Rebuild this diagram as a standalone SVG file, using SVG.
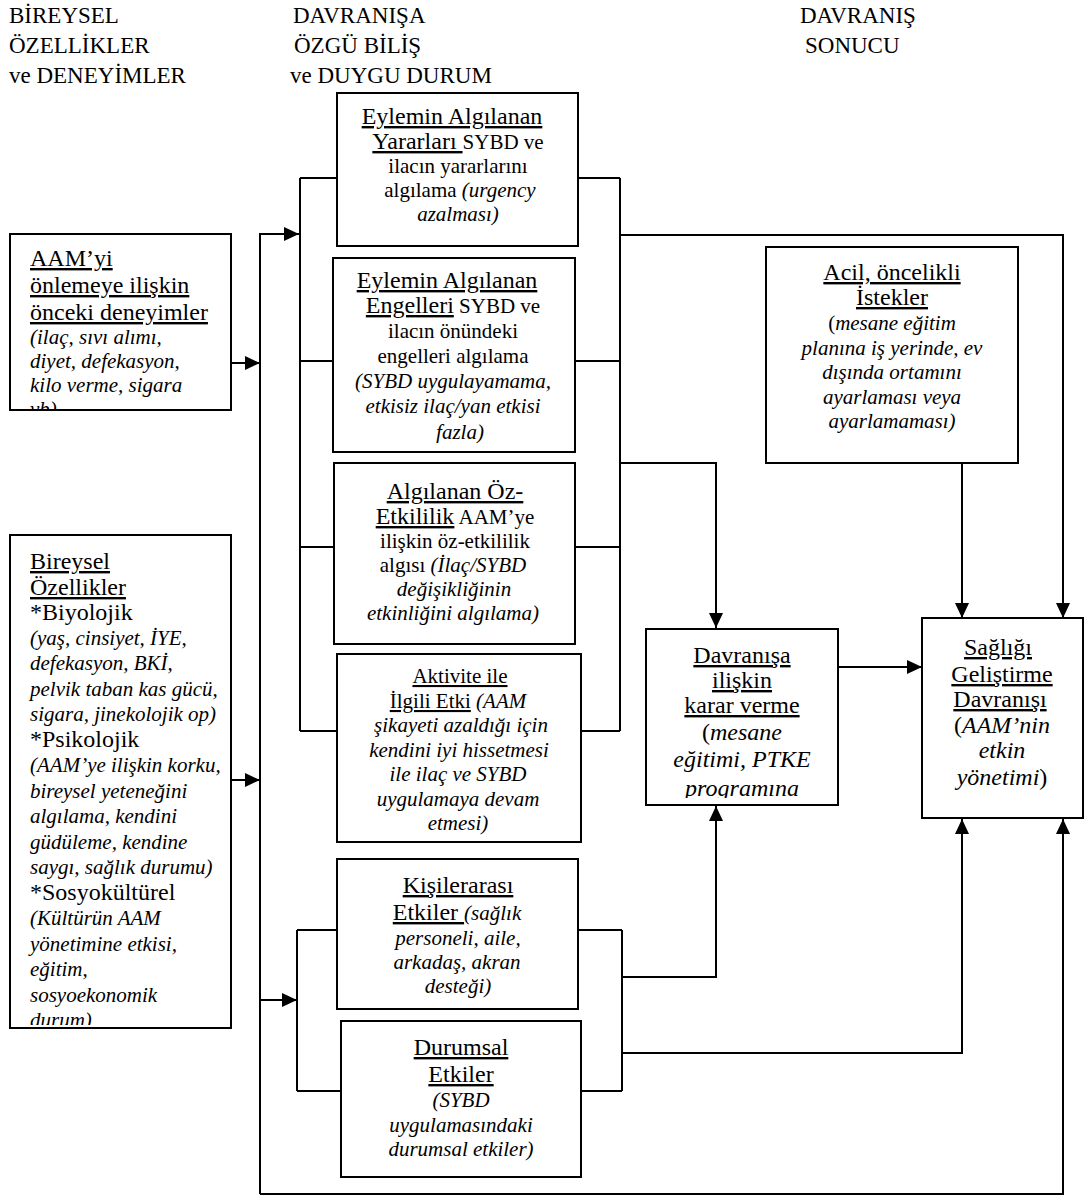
<svg xmlns="http://www.w3.org/2000/svg" width="1086" height="1196" viewBox="0 0 1086 1196">
<style>
text{font-family:"Liberation Serif","Times New Roman",serif;fill:#000}
.h{font-size:23px}
.s{font-size:24px}
.b{font-size:21px}
.u{text-decoration:underline}
.i{font-style:italic}
.c{text-anchor:middle}
.box{fill:#fff;stroke:#000;stroke-width:2}
.ln{fill:none;stroke:#000;stroke-width:2}
.ar{fill:none;stroke:#000;stroke-width:2;marker-end:url(#ah)}
</style>
<defs>
<marker id="ah" markerUnits="userSpaceOnUse" markerWidth="15" markerHeight="14" refX="15" refY="7" orient="auto"><path d="M0,0 L15,7 L0,14 z" fill="#000"/></marker>
<clipPath id="cpAam"><rect x="10" y="234" width="221" height="175"/></clipPath>
<clipPath id="cpEng"><rect x="333" y="258" width="242" height="185"/></clipPath>
<clipPath id="cpBir"><rect x="10" y="535" width="221" height="490"/></clipPath>
<clipPath id="cpKar"><rect x="646" y="629" width="192" height="169"/></clipPath>
</defs>
<rect width="1086" height="1196" fill="#fff"/>

<g id="headers">
<text class="h" x="9" y="23">BİREYSEL</text>
<text class="h" x="9" y="53">ÖZELLİKLER</text>
<text class="h" x="9" y="83">ve DENEYİMLER</text>
<text class="h" x="293" y="23">DAVRANIŞA</text>
<text class="h" x="294" y="53">ÖZGÜ BİLİŞ</text>
<text class="h" x="290" y="83">ve DUYGU DURUM</text>
<text class="h" x="800" y="23">DAVRANIŞ</text>
<text class="h" x="805" y="53">SONUCU</text>
</g>

<g id="connectors">
<path class="ar" d="M260,1194 V234 H299"/>
<path class="ar" d="M260,1000 H297"/>
<path class="ar" d="M260,1194 H1063 V819"/>
<path class="ar" d="M231,363 H260"/>
<path class="ar" d="M231,780 H260"/>
<path class="ln" d="M300,178 V731 M300,178 H337 M300,361 H333 M300,547 H334 M300,731 H337"/>
<path class="ln" d="M620,178 V731 M578,178 H620 M575,361 H620 M575,547 H620 M581,731 H620"/>
<path class="ar" d="M620,235 H1063 V618"/>
<path class="ar" d="M620,463 H716 V628"/>
<path class="ar" d="M962,463 V618"/>
<path class="ar" d="M838,667 H922"/>
<path class="ln" d="M297,930 V1091 M297,930 H337 M297,1091 H341"/>
<path class="ln" d="M622,930 V1091 M578,930 H622 M581,1091 H622"/>
<path class="ar" d="M622,977 H716 V806"/>
<path class="ar" d="M622,1053 H962 V819"/>
</g>

<g id="n-aam">
<rect class="box" x="10" y="234" width="221" height="176"/>
<g clip-path="url(#cpAam)">
<text x="30" y="266"><tspan class="s u">AAM’yi</tspan></text>
<text x="30" y="293"><tspan class="s u">önlemeye ilişkin</tspan></text>
<text x="30" y="320"><tspan class="s u">önceki deneyimler</tspan></text>
<text class="b i" x="30" y="344">(ilaç, sıvı alımı,</text>
<text class="b i" x="30" y="368">diyet, defekasyon,</text>
<text class="b i" x="30" y="392">kilo verme, sigara</text>
<text class="b i" x="30" y="416">vb)</text>
</g>
</g>

<g id="n-bireysel">
<rect class="box" x="10" y="535" width="221" height="493"/>
<g clip-path="url(#cpBir)">
<text x="30" y="569"><tspan class="s u">Bireysel</tspan></text>
<text x="30" y="595"><tspan class="s u">Özellikler</tspan></text>
<text class="s" x="30" y="620">*Biyolojik</text>
<text class="b i" x="30" y="645">(yaş, cinsiyet, İYE,</text>
<text class="b i" x="30" y="670">defekasyon, BKİ,</text>
<text class="b i" x="30" y="696">pelvik taban kas gücü,</text>
<text class="b i" x="30" y="721">sigara, jinekolojik op)</text>
<text class="s" x="30" y="747">*Psikolojik</text>
<text class="b i" x="30" y="772">(AAM’ye ilişkin korku,</text>
<text class="b i" x="30" y="798">bireysel yeteneğini</text>
<text class="b i" x="30" y="823">algılama, kendini</text>
<text class="b i" x="30" y="849">güdüleme, kendine</text>
<text class="b i" x="30" y="874">saygı, sağlık durumu)</text>
<text class="s" x="30" y="900">*Sosyokültürel</text>
<text class="b i" x="30" y="925">(Kültürün AAM</text>
<text class="b i" x="30" y="951">yönetimine etkisi,</text>
<text class="b i" x="30" y="976">eğitim,</text>
<text class="b i" x="30" y="1002">sosyoekonomik</text>
<text class="b i" x="30" y="1027">durum)</text>
</g>
</g>

<g id="n-yarar">
<rect class="box" x="337" y="93" width="241" height="153"/>
<text class="c" x="452" y="124"><tspan class="s u">Eylemin Algılanan</tspan></text>
<text class="c" x="458" y="149"><tspan class="s u">Yararları </tspan><tspan class="b">SYBD ve</tspan></text>
<text class="c b" x="458" y="173">ilacın yararlarını</text>
<text class="c b" x="460" y="197">algılama <tspan class="i">(urgency</tspan></text>
<text class="c b i" x="458" y="221">azalması)</text>
</g>

<g id="n-engel">
<rect class="box" x="333" y="258" width="242" height="194"/>
<g clip-path="url(#cpEng)">
<text class="c" x="447" y="288"><tspan class="s u">Eylemin Algılanan</tspan></text>
<text class="c" x="453" y="313"><tspan class="s u">Engelleri</tspan><tspan class="b"> SYBD ve</tspan></text>
<text class="c b" x="453" y="338">ilacın önündeki</text>
<text class="c b" x="453" y="363">engelleri algılama</text>
<text class="c b i" x="453" y="388">(SYBD uygulayamama,</text>
<text class="c b i" x="453" y="413">etkisiz ilaç/yan etkisi</text>
<text class="c b i" x="460" y="439">fazla)</text>
</g>
</g>

<g id="n-oz">
<rect class="box" x="334" y="463" width="241" height="181"/>
<text class="c" x="455" y="499"><tspan class="s u">Algılanan Öz-</tspan></text>
<text class="c" x="455" y="524"><tspan class="s u">Etkililik</tspan><tspan class="b"> AAM’ye</tspan></text>
<text class="c b" x="455" y="548">ilişkin öz-etkililik</text>
<text class="c b" x="453" y="572">algısı <tspan class="i">(İlaç/SYBD</tspan></text>
<text class="c b i" x="454" y="596">değişikliğinin</text>
<text class="c b i" x="453" y="620">etkinliğini algılama)</text>
</g>

<g id="n-aktivite">
<rect class="box" x="337" y="654" width="244" height="188"/>
<text class="c b" x="460" y="683"><tspan class="u">Aktivite ile</tspan></text>
<text class="c b" x="458" y="708"><tspan class="u">İlgili Etki</tspan><tspan class="i"> (AAM</tspan></text>
<text class="c b i" x="461" y="732">şikayeti azaldığı için</text>
<text class="c b i" x="459" y="757">kendini iyi hissetmesi</text>
<text class="c b i" x="458" y="781">ile ilaç ve SYBD</text>
<text class="c b i" x="458" y="806">uygulamaya devam</text>
<text class="c b i" x="458" y="830">etmesi)</text>
</g>

<g id="n-kisiler">
<rect class="box" x="337" y="859" width="241" height="150"/>
<text class="c" x="458" y="893"><tspan class="s u">Kişilerarası</tspan></text>
<text class="c" x="457" y="920"><tspan class="s u">Etkiler </tspan><tspan class="b i">(sağlık</tspan></text>
<text class="c b i" x="458" y="945">personeli, aile,</text>
<text class="c b i" x="457" y="969">arkadaş, akran</text>
<text class="c b i" x="458" y="993">desteği)</text>
</g>

<g id="n-durumsal">
<rect class="box" x="341" y="1021" width="240" height="156"/>
<text class="c" x="461" y="1055"><tspan class="s u">Durumsal</tspan></text>
<text class="c" x="461" y="1082"><tspan class="s u">Etkiler</tspan></text>
<text class="c b i" x="461" y="1107">(SYBD</text>
<text class="c b i" x="461" y="1132">uygulamasındaki</text>
<text class="c b i" x="461" y="1156">durumsal etkiler)</text>
</g>

<g id="n-acil">
<rect class="box" x="766" y="247" width="252" height="216"/>
<text class="c" x="892" y="280"><tspan class="s u">Acil, öncelikli</tspan></text>
<text class="c" x="892" y="305"><tspan class="s u">İstekler</tspan></text>
<text class="c b" x="892" y="330">(<tspan class="i">mesane eğitim</tspan></text>
<text class="c b i" x="892" y="355">planına iş yerinde, ev</text>
<text class="c b i" x="892" y="379">dışında ortamını</text>
<text class="c b i" x="892" y="404">ayarlaması veya</text>
<text class="c b i" x="892" y="428">ayarlamaması)</text>
</g>

<g id="n-karar">
<rect class="box" x="646" y="629" width="192" height="176"/>
<g clip-path="url(#cpKar)">
<text class="c" x="742" y="663"><tspan class="s u">Davranışa</tspan></text>
<text class="c" x="742" y="688"><tspan class="s u">ilişkin</tspan></text>
<text class="c" x="742" y="713"><tspan class="s u">karar verme</tspan></text>
<text class="c s" x="742" y="740">(<tspan class="i">mesane</tspan></text>
<text class="c s i" x="742" y="767">eğitimi, PTKE</text>
<text class="c s i" x="742" y="796">programına</text>
</g>
</g>

<g id="n-saglik">
<rect class="box" x="922" y="618" width="161" height="200"/>
<text class="c" x="998" y="655"><tspan class="s u">Sağlığı</tspan></text>
<text class="c" x="1002" y="682"><tspan class="s u">Geliştirme</tspan></text>
<text class="c" x="1000" y="707"><tspan class="s u">Davranışı</tspan></text>
<text class="c s" x="1002" y="733">(<tspan class="i">AAM’nin</tspan></text>
<text class="c s i" x="1002" y="758">etkin</text>
<text class="c s" x="1002" y="785"><tspan class="i">yönetimi</tspan>)</text>
</g>
</svg>
